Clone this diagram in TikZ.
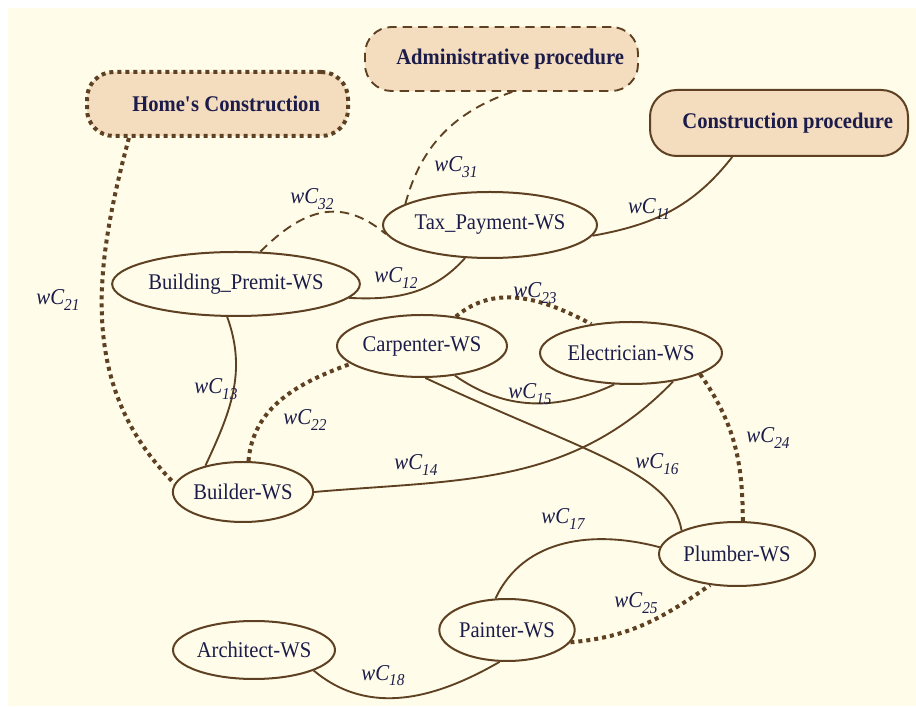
\documentclass[tikz,border=0pt]{standalone}
\usepackage{fontspec}
\setmainfont[FakeStretch=0.92]{Liberation Serif}
\usetikzlibrary{shapes.geometric}
\definecolor{bgc}{HTML}{FFFDE9}
\definecolor{linec}{HTML}{5E4022}
\definecolor{fillc}{HTML}{F4DCBE}
\definecolor{textc}{HTML}{1C1C4A}
\newcommand\wcl[1]{wC\raisebox{-3.8pt}{\fontsize{12.5}{13}\selectfont #1}}
\begin{document}
\begin{tikzpicture}[x=0.75pt,y=0.75pt,
  ws/.style={ellipse, draw=linec, line width=1.5pt, inner sep=0pt, text=textc, font=\fontsize{16.8}{19}\selectfont},
  sz/.style 2 args={minimum width=#1*0.75pt, minimum height=#2*0.75pt},
  grp/.style={rectangle, rounded corners=20pt, fill=fillc, draw=linec, line width=1.5pt, text=textc, font=\fontsize{16.8}{19}\selectfont\bfseries, inner sep=0pt},
  lbl/.style={text=textc, font=\fontsize{17}{19}\selectfont\itshape, inner sep=0pt, anchor=base},
  conn/.style={draw=linec, line width=1.4pt},
  dotl/.style={draw=linec, line width=3pt, dash pattern=on 3pt off 3pt},
  dashl/.style={draw=linec, line width=1.4pt, dash pattern=on 7pt off 4.5pt},
]
\useasboundingbox (0,0) rectangle (916,706);
\fill[white] (0,0) rectangle (916,706);
\fill[bgc] (8,0) rectangle (916,698);

% group boxes
\node[grp, dotl, sz={261}{64}] (home) at (217.5,602) {\hspace*{13pt}Home\textquotesingle s Construction};
\node[grp, dashl, sz={273}{64}] (admin) at (501.5,647) {\hspace*{13pt}Administrative procedure};
\node[grp, sz={258}{66}] (constr) at (779,583) {\hspace*{13pt}Construction procedure};

% web services
\node[ws, sz={214}{66}] (tax) at (490,481) {Tax\_Payment-WS};
\node[ws, sz={228}{64}] (bp) at (236,422) {Building\_Premit-WS};
\node[ws, sz={170}{62}] (carp) at (422,360) {Carpenter-WS};
\node[ws, sz={182}{62}] (elec) at (631,353) {Electrician-WS};
\node[ws, sz={140}{60}] (builder) at (243,214) {Builder-WS};
\node[ws, sz={156}{64}] (plumb) at (737,152) {Plumber-WS};
\node[ws, sz={133}{62}] (paint) at (507,76) {Painter-WS};
\node[ws, sz={162}{58}] (arch) at (254,56) {Architect-WS};

% solid connectors
\draw[conn] (tax.-6) to[out=10, in=232] (constr.216);
\draw[conn] (bp.-7) to[out=-3, in=228] (tax.233);
\draw[conn] (bp.255) to[out=-70, in=65] (builder.145);
\draw[conn] (builder.0) to[out=5, in=226] (elec.-34);
\draw[conn] (carp.-42) to[out=-35, in=205] (elec.242);
\draw[conn] (carp.276) .. controls +(-25:180) and +(100:60) .. (plumb.157);
\draw[conn] (paint.110) to[out=65, in=165] (plumb.175);
\draw[conn] (arch.-19) to[out=-40, in=210] (paint.257);

% dotted connectors
\draw[dotl] (home.201) to[out=-105, in=135] (builder.173);
\draw[dotl] (builder.80) to[out=85, in=200] (carp.194);
\draw[dotl] (carp.41) to[out=40, in=152] (elec.144);
\draw[dotl] (elec.-17) to[out=-55, in=90] (plumb.80);
\draw[dotl] (paint.-11) to[out=5, in=215] (plumb.229);

% dashed connectors
\draw[dashl] (tax.166) to[out=75, in=199] (admin.288);
\draw[dashl] (bp.53) to[out=45, in=140, looseness=1.2] (tax.185);

% labels
\node[lbl] (l11) at (649,492) {\wcl{11}};
\node[lbl] (l12) at (396,423) {\wcl{12}};
\node[lbl] (l13) at (216,312) {\wcl{13}};
\node[lbl] (l14) at (416,236) {\wcl{14}};
\node[lbl] (l15) at (530,307) {\wcl{15}};
\node[lbl] (l16) at (657,237) {\wcl{16}};
\node[lbl] (l17) at (563,182) {\wcl{17}};
\node[lbl] (l18) at (383,26) {\wcl{18}};
\node[lbl] (l21) at (58,401) {\wcl{21}};
\node[lbl] (l22) at (305,281) {\wcl{22}};
\node[lbl] (l23) at (535,408) {\wcl{23}};
\node[lbl] (l24) at (768,263) {\wcl{24}};
\node[lbl] (l25) at (636,98) {\wcl{25}};
\node[lbl] (l31) at (456,534) {\wcl{31}};
\node[lbl] (l32) at (312,502) {\wcl{32}};
\end{tikzpicture}
\end{document}
